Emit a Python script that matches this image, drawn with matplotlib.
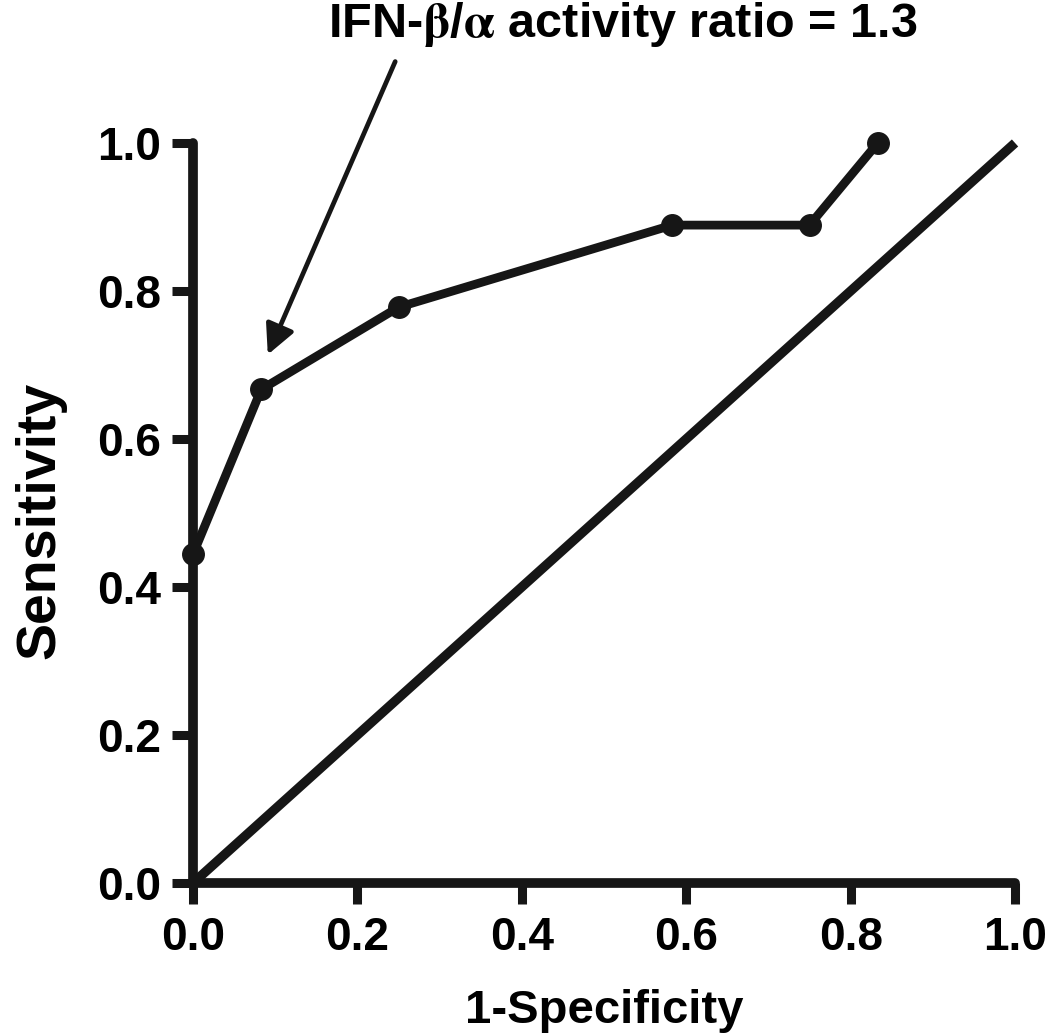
import numpy as np
import matplotlib.pyplot as plt

# ROC curve, IFN-beta/alpha activity ratio
fpr = [0.0, 0.083, 0.25, 0.583, 0.75, 0.833]
sens = [0.444, 0.667, 0.778, 0.889, 0.889, 1.0]
diag = [0.0, 1.0]
ticks = [0.0, 0.2, 0.4, 0.6, 0.8, 1.0]
tick_labels = ["0.0", "0.2", "0.4", "0.6", "0.8", "1.0"]

plt.rcParams['font.family'] = ['Liberation Sans', 'DejaVu Sans']
plt.rcParams['font.weight'] = 'bold'

ink = '#161616'
fig = plt.figure(figsize=(10.5, 10.33), dpi=100)
ax = fig.add_axes([0.1838, 0.1452, 0.7829, 0.7164])

ax.plot(diag, diag, color=ink, lw=6.8, solid_capstyle='butt', clip_on=False)
ax.plot(fpr, sens, color=ink, lw=6.3, marker='o', markersize=15.5, clip_on=False, zorder=3)

ax.set_xlim(0, 1)
ax.set_ylim(0, 1)
ax.set_xticks(ticks)
ax.set_xticklabels(tick_labels)
ax.set_yticks(ticks)
ax.set_yticklabels(tick_labels)

for s in ['top', 'right']:
    ax.spines[s].set_visible(False)
for s in ['left', 'bottom']:
    ax.spines[s].set_linewidth(7)
    ax.spines[s].set_color(ink)
    ax.spines[s].set_capstyle('round')
ax.tick_params(width=6.5, length=15, color=ink, labelsize=33)
ax.tick_params(axis='x', pad=9)
ax.tick_params(axis='y', pad=8)
for lab in ax.get_xticklabels() + ax.get_yticklabels():
    lab.set_fontweight('bold')

ax.set_xlabel("1-Specificity", fontsize=34, fontweight='bold')
ax.xaxis.set_label_coords(0.5, -0.189)
ax.xaxis.label.set_va('baseline')
ax.set_ylabel("Sensitivity", fontsize=40, fontweight='bold')
ax.yaxis.set_label_coords(-0.168, 0.4905)
ax.yaxis.label.set_va('baseline')

ax.annotate("", xy=(0.091, 0.714), xytext=(0.246, 1.11),
            xycoords='data', textcoords='data', annotation_clip=False,
            arrowprops=dict(arrowstyle='-|>', color=ink, lw=3.4,
                            mutation_scale=45, shrinkA=0, shrinkB=0))
fig.text(0.593, 1 - 37 / 1033, r"IFN-$\mathrm{\beta}$/$\mathrm{\alpha}$ activity ratio = 1.3",
         ha='center', va='baseline', fontsize=35, fontweight='bold',
         math_fontfamily='stix')

fig.savefig("out.png", dpi=100)
